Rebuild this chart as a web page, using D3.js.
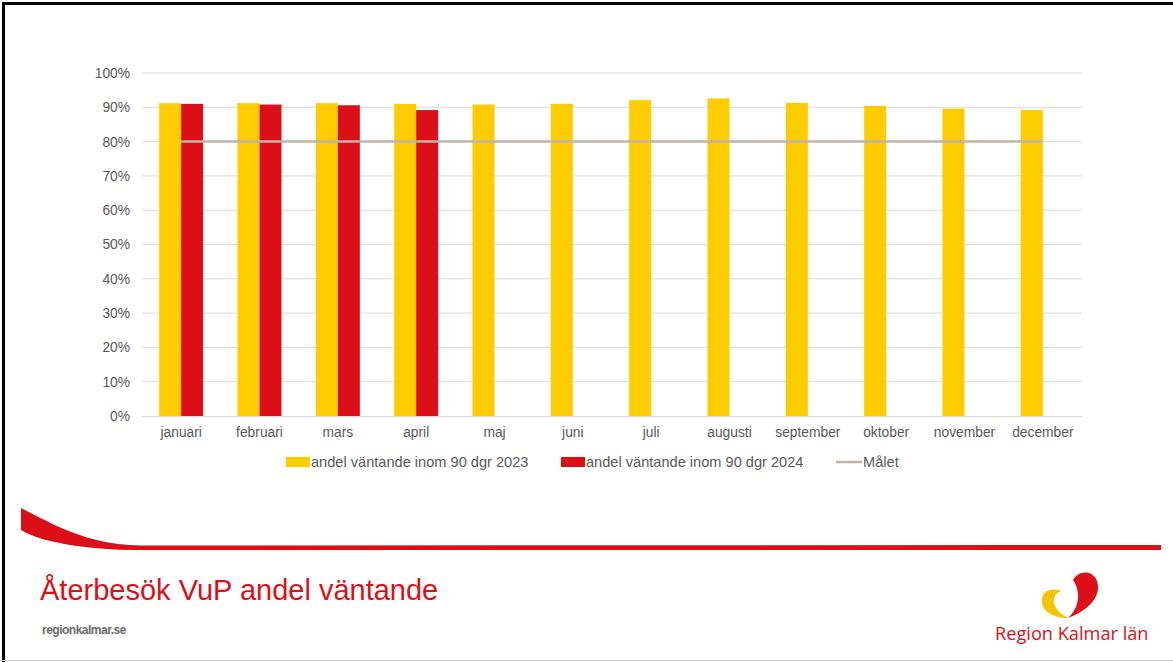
<!DOCTYPE html>
<html><head><meta charset="utf-8">
<script src="https://cdn.jsdelivr.net/npm/d3@7"></script>
<style>
html,body{margin:0;padding:0;background:#fff;}
svg{display:block;font-family:"Liberation Sans",Arial,sans-serif;}
</style></head>
<body>
<svg id="c" width="1173" height="662"></svg>
<script>
const months = ["januari","februari","mars","april","maj","juni","juli","augusti","september","oktober","november","december"];
const values2023 = [91.2, 91.2, 91.2, 91.0, 90.8, 91.0, 92.1, 92.6, 91.3, 90.4, 89.6, 89.2];
const values2024 = [91.0, 90.8, 90.6, 89.2, null, null, null, null, null, null, null, null];
const targetValues = [80,80,80,80,80,80,80,80,80,80,80,80];
const yTicks = [0,10,20,30,40,50,60,70,80,90,100];
const seriesNames = ["andel väntande inom 90 dgr 2023","andel väntande inom 90 dgr 2024","Målet"];
const colors = {y2023:"#ffcc00", y2024:"#dc0f19", target:"#bfb3ab"};

const svg = d3.select("#c");
const W = 1173, H = 662;

// frame
svg.append("rect").attr("x",0).attr("y",0).attr("width",W).attr("height",H).attr("fill","#fff");
svg.append("line").attr("x1",2).attr("x2",W).attr("y1",3.5).attr("y2",3.5).attr("stroke","#000").attr("stroke-width",3);
svg.append("line").attr("x1",3.5).attr("x2",3.5).attr("y1",2).attr("y2",H).attr("stroke","#000").attr("stroke-width",3);
svg.append("line").attr("x1",0).attr("x2",W).attr("y1",660.5).attr("y2",660.5).attr("stroke","#d0d0d0").attr("stroke-width",1);

const x0 = 142, x1 = 1082, yTop = 73, yBot = 416;
const x = d3.scaleBand().domain(months).range([x0,x1]).paddingInner(0).paddingOuter(0);
const y = d3.scaleLinear().domain([0,100]).range([yBot,yTop]);
const barW = 22;

// gridlines
svg.append("g").selectAll("line").data(yTicks.filter(d=>d>0)).join("line")
  .attr("x1",x0).attr("x2",x1).attr("y1",d=>y(d)).attr("y2",d=>y(d))
  .attr("stroke","#d9d9d9").attr("stroke-width",1);

// y axis labels
const yAxis = d3.axisLeft(y).tickValues(yTicks).tickFormat(d=>d+"%").tickSize(0).tickPadding(12);
const ga = svg.append("g").attr("transform",`translate(${x0},0)`).call(yAxis);
ga.select(".domain").remove();
ga.selectAll("text").attr("font-size",13.8).attr("fill","#595959").attr("font-family","Liberation Sans, Arial, sans-serif");

// bars 2023
svg.append("g").selectAll("rect").data(months).join("rect")
  .attr("x",(m)=>x(m)+x.bandwidth()/2-barW)
  .attr("width",barW)
  .attr("y",(m,i)=>y(values2023[i]))
  .attr("height",(m,i)=>yBot-y(values2023[i]))
  .attr("fill",colors.y2023);

// bars 2024
svg.append("g").selectAll("rect").data(months.filter((m,i)=>values2024[i]!=null)).join("rect")
  .attr("x",(m)=>x(m)+x.bandwidth()/2)
  .attr("width",barW)
  .attr("y",(m)=>y(values2024[months.indexOf(m)]))
  .attr("height",(m)=>yBot-y(values2024[months.indexOf(m)]))
  .attr("fill",colors.y2024);

// baseline
svg.append("line").attr("x1",x0).attr("x2",x1).attr("y1",yBot+0.5).attr("y2",yBot+0.5).attr("stroke","#d9d9d9");

// target line
const line = d3.line().x((d,i)=>x(months[i])+x.bandwidth()/2).y(d=>y(d));
svg.append("path").attr("d",line(targetValues)).attr("fill","none").attr("stroke",colors.target).attr("stroke-width",2.5);

// x labels
const xAxis = d3.axisBottom(x).tickSize(0).tickPadding(11);
const gx = svg.append("g").attr("transform",`translate(0,${yBot})`).call(xAxis);
gx.select(".domain").remove();
gx.selectAll("text").attr("font-size",13.8).attr("fill","#595959").attr("font-family","Liberation Sans, Arial, sans-serif");

// legend
const leg = svg.append("g").attr("font-size",14.6).attr("fill","#595959");
const ly = 462;
leg.append("rect").attr("x",286).attr("y",ly-5).attr("width",24).attr("height",10).attr("fill",colors.y2023);
leg.append("text").attr("x",311).attr("y",ly+5).text(seriesNames[0]).attr("fill","#595959");
leg.append("rect").attr("x",561).attr("y",ly-5).attr("width",24).attr("height",10).attr("fill",colors.y2024);
leg.append("text").attr("x",586).attr("y",ly+5).text(seriesNames[1]).attr("fill","#595959");
leg.append("line").attr("x1",836).attr("x2",862).attr("y1",ly).attr("y2",ly).attr("stroke",colors.target).attr("stroke-width",2.5);
leg.append("text").attr("x",863).attr("y",ly+5).text(seriesNames[2]).attr("fill","#595959");

// footer swoosh
const red = "#dc0f19";
svg.append("path")
  .attr("d","M21,508 C55,525 85,544 140,545.5 L1161,545 L1161,550 L140,550 C85,550 40,542 21,530 Z")
  .attr("fill",red);

// title
svg.append("text").attr("x",40).attr("y",600).attr("font-size",29).attr("fill",red)
  .attr("font-family","Liberation Sans, Arial, sans-serif").text("Återbesök VuP andel väntande");
svg.append("text").attr("x",42).attr("y",634).attr("font-size",12).attr("fill","#6a6a6a").attr("font-weight","bold")
  .attr("letter-spacing",-0.5).text("regionkalmar.se");

// logo
const lg = svg.append("g");
lg.append("path").attr("d","M1068,618 C1080,607 1081,592 1073,580 C1078,571 1092,569 1097,581 C1102,596 1089,610 1068,618 Z").attr("fill",red);
lg.append("path").attr("d","M1068,618 C1054,618 1043,612 1042,602 C1041,592 1050,587 1061,591 C1054,594 1052,600 1055,606 C1058,612 1063,615 1068,618 Z").attr("fill","#f5c400");
lg.append("text").attr("x",995).attr("y",640).attr("font-size",18.2).attr("fill",red)
  .attr("font-family","Open Sans, Liberation Sans, sans-serif").text("Region Kalmar län");
</script>
</body></html>
